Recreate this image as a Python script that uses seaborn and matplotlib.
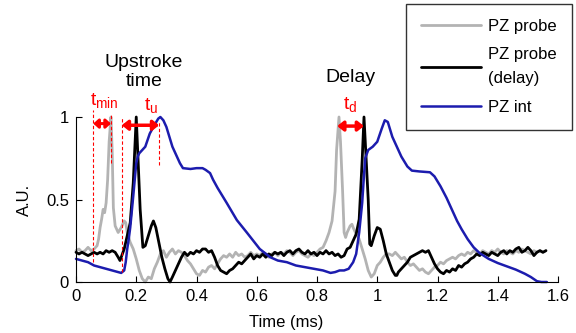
import matplotlib
matplotlib.use("Agg")
import matplotlib.pyplot as plt
import numpy as np
import pandas as pd
import seaborn as sns

# PZ probe (grey)
probe_t = [0.00, 0.01, 0.02, 0.03, 0.04, 0.05, 0.06, 0.07, 0.075, 0.08, 0.085, 0.09, 0.095, 0.10,
           0.105, 0.11, 0.116, 0.12, 0.124, 0.13, 0.14, 0.15, 0.16, 0.165, 0.17, 0.18, 0.19, 0.20,
           0.21, 0.22, 0.23, 0.24, 0.25, 0.26, 0.27, 0.28, 0.29, 0.30, 0.31, 0.32, 0.33, 0.34, 0.35,
           0.36, 0.37, 0.38, 0.39, 0.40, 0.41, 0.42, 0.43, 0.44, 0.45, 0.46, 0.47, 0.48, 0.49, 0.50,
           0.51, 0.52, 0.53, 0.54, 0.55, 0.56, 0.57, 0.58, 0.59, 0.60, 0.61, 0.62, 0.63, 0.64, 0.65,
           0.66, 0.67, 0.68, 0.69, 0.70, 0.71, 0.72, 0.73, 0.74, 0.75, 0.76, 0.77, 0.78, 0.79, 0.80,
           0.81, 0.82, 0.83, 0.84, 0.85, 0.86, 0.865, 0.873, 0.878, 0.885, 0.89, 0.895, 0.90, 0.91,
           0.916, 0.92, 0.93, 0.94, 0.95, 0.96, 0.97, 0.98, 0.99, 1.00, 1.01, 1.02, 1.03, 1.04, 1.05,
           1.06, 1.07, 1.08, 1.09, 1.10, 1.11, 1.12, 1.13, 1.14, 1.15, 1.16, 1.17, 1.18, 1.19, 1.20,
           1.21, 1.22, 1.23, 1.24, 1.25, 1.26, 1.27, 1.28, 1.29, 1.30, 1.31, 1.32, 1.33, 1.34, 1.35,
           1.36, 1.37, 1.38, 1.39, 1.40, 1.41, 1.42, 1.43, 1.44, 1.45, 1.46, 1.47, 1.48, 1.49, 1.50,
           1.51, 1.52, 1.53, 1.54, 1.55, 1.56]
probe_v = [0.19, 0.20, 0.18, 0.19, 0.21, 0.19, 0.20, 0.22, 0.26, 0.33, 0.38, 0.44, 0.42, 0.48,
           0.62, 0.85, 1.00, 0.80, 0.45, 0.34, 0.30, 0.33, 0.37, 0.36, 0.30, 0.24, 0.20, 0.14,
           0.07, 0.02, 0.00, 0.03, 0.02, 0.08, 0.12, 0.17, 0.19, 0.15, 0.18, 0.20, 0.17, 0.19, 0.18,
           0.16, 0.13, 0.11, 0.08, 0.05, 0.04, 0.07, 0.06, 0.09, 0.10, 0.08, 0.11, 0.14, 0.16, 0.15,
           0.17, 0.15, 0.18, 0.16, 0.17, 0.15, 0.16, 0.18, 0.16, 0.17, 0.16, 0.18, 0.17, 0.15, 0.17,
           0.18, 0.16, 0.18, 0.17, 0.19, 0.18, 0.16, 0.18, 0.19, 0.17, 0.16, 0.15, 0.17, 0.16, 0.18,
           0.20, 0.21, 0.25, 0.30, 0.37, 0.55, 0.80, 1.00, 0.85, 0.55, 0.30, 0.27, 0.30, 0.34,
           0.35, 0.33, 0.29, 0.26, 0.20, 0.14, 0.07, 0.03, 0.05, 0.10, 0.12, 0.15, 0.17, 0.17, 0.16,
           0.18, 0.16, 0.14, 0.15, 0.12, 0.10, 0.11, 0.09, 0.07, 0.08, 0.06, 0.05, 0.07, 0.09, 0.10,
           0.12, 0.11, 0.13, 0.14, 0.15, 0.14, 0.16, 0.17, 0.16, 0.18, 0.17, 0.19, 0.18, 0.17, 0.19,
           0.18, 0.17, 0.19, 0.18, 0.20, 0.18, 0.17, 0.19, 0.18, 0.17, 0.19, 0.18, 0.20, 0.19, 0.18,
           0.17, 0.19, 0.18, 0.19, 0.18, 0.19]

# PZ probe (delay), black
delay_t = [0.00, 0.01, 0.02, 0.03, 0.04, 0.05, 0.06, 0.07, 0.08, 0.09, 0.10, 0.11, 0.12, 0.13,
           0.14, 0.146, 0.15, 0.16, 0.17, 0.18, 0.19, 0.20, 0.207, 0.213, 0.222, 0.23, 0.24, 0.25,
           0.257, 0.265, 0.275, 0.285, 0.295, 0.305, 0.312, 0.32, 0.33, 0.34, 0.35, 0.36, 0.37, 0.38,
           0.39, 0.40, 0.41, 0.42, 0.43, 0.44, 0.45, 0.46, 0.47, 0.48, 0.49, 0.50, 0.51, 0.52, 0.53,
           0.54, 0.55, 0.56, 0.57, 0.58, 0.59, 0.60, 0.61, 0.62, 0.63, 0.64, 0.65, 0.66, 0.67, 0.68,
           0.69, 0.70, 0.71, 0.72, 0.73, 0.74, 0.75, 0.76, 0.77, 0.78, 0.79, 0.80, 0.81, 0.82, 0.83,
           0.84, 0.85, 0.86, 0.87, 0.88, 0.89, 0.90, 0.91, 0.92, 0.93, 0.94, 0.95, 0.956, 0.963,
           0.97, 0.975, 0.98, 0.99, 1.00, 1.01, 1.02, 1.03, 1.04, 1.05, 1.06, 1.065, 1.07, 1.08,
           1.09, 1.10, 1.11, 1.12, 1.13, 1.14, 1.15, 1.16, 1.17, 1.18, 1.19, 1.20, 1.21, 1.22, 1.23,
           1.24, 1.25, 1.26, 1.27, 1.28, 1.29, 1.30, 1.31, 1.32, 1.33, 1.34, 1.35, 1.36, 1.37, 1.38,
           1.39, 1.40, 1.41, 1.42, 1.43, 1.44, 1.45, 1.46, 1.47, 1.48, 1.49, 1.50, 1.51, 1.52, 1.53,
           1.54, 1.55, 1.56]
delay_v = [0.18, 0.17, 0.18, 0.17, 0.16, 0.17, 0.18, 0.17, 0.18, 0.17, 0.19, 0.18, 0.19, 0.18,
           0.15, 0.13, 0.15, 0.20, 0.28, 0.36, 0.60, 1.00, 0.70, 0.44, 0.21, 0.22, 0.28, 0.34,
           0.37, 0.33, 0.24, 0.15, 0.08, 0.02, 0.00, 0.03, 0.07, 0.11, 0.15, 0.18, 0.16, 0.18,
           0.17, 0.19, 0.18, 0.20, 0.20, 0.18, 0.19, 0.15, 0.10, 0.07, 0.06, 0.05, 0.07, 0.08, 0.10,
           0.12, 0.11, 0.13, 0.15, 0.17, 0.14, 0.16, 0.15, 0.17, 0.15, 0.17, 0.16, 0.18, 0.17, 0.18,
           0.16, 0.18, 0.19, 0.17, 0.19, 0.20, 0.18, 0.17, 0.19, 0.17, 0.18, 0.16, 0.18, 0.17, 0.19,
           0.17, 0.18, 0.16, 0.17, 0.15, 0.16, 0.20, 0.21, 0.25, 0.29, 0.38, 0.74, 1.00, 0.75,
           0.50, 0.23, 0.22, 0.28, 0.33, 0.32, 0.25, 0.17, 0.12, 0.07, 0.04, 0.04, 0.06, 0.08,
           0.10, 0.12, 0.15, 0.16, 0.17, 0.18, 0.19, 0.18, 0.19, 0.15, 0.11, 0.08, 0.06, 0.05, 0.07,
           0.06, 0.08, 0.07, 0.10, 0.09, 0.11, 0.12, 0.14, 0.15, 0.17, 0.16, 0.18, 0.17, 0.16, 0.18,
           0.17, 0.16, 0.18, 0.19, 0.17, 0.19, 0.18, 0.20, 0.21, 0.18, 0.19, 0.21, 0.19, 0.16, 0.18,
           0.19, 0.18, 0.19]

# PZ int (blue)
int_t = [0.00, 0.02, 0.04, 0.06, 0.08, 0.10, 0.12, 0.14, 0.15, 0.16, 0.165, 0.17, 0.175, 0.18,
         0.19, 0.20, 0.205, 0.21, 0.22, 0.23, 0.245, 0.26, 0.273, 0.28, 0.29, 0.30, 0.31, 0.32,
         0.335, 0.345, 0.355, 0.38, 0.40, 0.42, 0.43, 0.445, 0.455, 0.47, 0.50, 0.534, 0.567, 0.61,
         0.645, 0.67, 0.70, 0.73, 0.76, 0.79, 0.82, 0.845, 0.86, 0.875, 0.89, 0.905, 0.92, 0.93,
         0.94, 0.95, 0.955, 0.96, 0.97, 0.985, 1.00, 1.015, 1.025, 1.035, 1.05, 1.06, 1.08, 1.10,
         1.115, 1.14, 1.175, 1.19, 1.21, 1.23, 1.25, 1.265, 1.28, 1.30, 1.32, 1.34, 1.37, 1.40,
         1.43, 1.46, 1.49, 1.51, 1.53, 1.545, 1.563]
int_v = [0.14, 0.13, 0.12, 0.10, 0.09, 0.08, 0.07, 0.06, 0.055, 0.07, 0.12, 0.20, 0.26, 0.33,
         0.52, 0.72, 0.76, 0.78, 0.80, 0.82, 0.90, 0.95, 0.99, 1.00, 0.98, 0.94, 0.88, 0.82,
         0.76, 0.72, 0.69, 0.685, 0.69, 0.69, 0.68, 0.66, 0.62, 0.57, 0.48, 0.375, 0.30, 0.20,
         0.15, 0.13, 0.12, 0.10, 0.09, 0.08, 0.07, 0.055, 0.06, 0.07, 0.07, 0.08, 0.12, 0.17,
         0.30, 0.48, 0.62, 0.75, 0.80, 0.82, 0.85, 0.93, 0.98, 0.97, 0.88, 0.84, 0.76, 0.70,
         0.675, 0.67, 0.665, 0.64, 0.58, 0.51, 0.43, 0.37, 0.32, 0.26, 0.21, 0.175, 0.14, 0.115,
         0.095, 0.075, 0.05, 0.03, 0.005, 0.0, 0.0]

x_ticks = [0, 0.2, 0.4, 0.6, 0.8, 1.0, 1.2, 1.4, 1.6]
y_ticks = [0, 0.5, 1.0]

GREY = '#b3b3b3'
BLUE = '#1c1cae'
RED = '#ff0000'

sns.set_style('ticks')
plt.rcParams['font.family'] = ['Liberation Sans', 'DejaVu Sans']
plt.rcParams['mathtext.fontset'] = 'custom'
plt.rcParams['mathtext.rm'] = 'Liberation Sans'
plt.rcParams['text.color'] = 'black'
plt.rcParams['axes.labelcolor'] = 'black'

fig = plt.figure(figsize=(5.76, 3.33), dpi=100)
ax = fig.add_axes([76 / 576, 1 - 282 / 333, 482 / 576, 165 / 333])

probe = pd.DataFrame({'t': probe_t, 'v': probe_v})
delay = pd.DataFrame({'t': delay_t, 'v': delay_v})
integ = pd.DataFrame({'t': int_t, 'v': int_v})

sns.lineplot(data=probe, x='t', y='v', ax=ax, color=GREY, lw=2, sort=False,
             estimator=None, label='PZ probe')
sns.lineplot(data=delay, x='t', y='v', ax=ax, color='black', lw=2, sort=False,
             estimator=None, label='PZ probe\n(delay)')
sns.lineplot(data=integ, x='t', y='v', ax=ax, color=BLUE, lw=1.8, sort=False,
             estimator=None, label='PZ int')
for ln in ax.get_lines():
    ln.set_clip_on(False)

ax.set_xlim(0, 1.6)
ax.set_ylim(0, 1)
ax.set_xticks(x_ticks)
ax.set_yticks(y_ticks)
ax.set_xticklabels([f'{v:g}' for v in x_ticks])
ax.set_yticklabels([f'{v:g}' for v in y_ticks])
ax.tick_params(direction='in', length=4, width=0.8, labelsize=12, pad=5,
               colors='black', labelcolor='black')
sns.despine(ax=ax)
for s in ['left', 'bottom']:
    ax.spines[s].set_linewidth(0.8)
    ax.spines[s].set_color('black')

ax.set_xlabel('Time (ms)', fontsize=12, color='black')
ax.set_ylabel('A.U.', fontsize=12, color='black')
ax.xaxis.set_label_coords(0.436, -0.2)
ax.yaxis.set_label_coords(-0.092, 0.5)

# red markers for the timing intervals
dash = dict(color=RED, lw=0.8, ls=(0, (3, 2)), clip_on=False)
ax.plot([0.0575, 0.0575], [0.12, 1.04], **dash)
ax.plot([0.116, 0.116], [0.72, 1.02], **dash)
ax.plot([0.152, 0.152], [0.06, 1.0], **dash)
ax.plot([0.276, 0.276], [0.71, 0.97], **dash)

arrow = dict(arrowstyle='<|-|>,head_length=0.35,head_width=0.28', color=RED, lw=2.5,
             shrinkA=0, shrinkB=0)
small_arrow = dict(arrow, arrowstyle='<|-|>,head_length=0.28,head_width=0.26', lw=2.2)
ax.annotate('', xy=(0.0575, 0.96), xytext=(0.116, 0.96), arrowprops=small_arrow,
            annotation_clip=False)
ax.annotate('', xy=(0.152, 0.95), xytext=(0.276, 0.95), arrowprops=arrow, annotation_clip=False)
ax.annotate('', xy=(0.867, 0.945), xytext=(0.956, 0.945), arrowprops=arrow, annotation_clip=False)

ax.text(0.095, 1.10, r'$\mathregular{t_{min}}$', color=RED, fontsize=14, ha='center', va='center')
ax.text(0.248, 1.07, r'$\mathregular{t_{u}}$', color=RED, fontsize=14, ha='center', va='center')
ax.text(0.91, 1.075, r'$\mathregular{t_{d}}$', color=RED, fontsize=14, ha='center', va='center')
ax.text(0.226, 1.27, 'Upstroke\ntime', fontsize=14, ha='center', va='center', linespacing=1.15)
ax.text(0.91, 1.24, 'Delay', fontsize=14, ha='center', va='center')

handles, labels = ax.get_legend_handles_labels()
ax.get_legend().remove()
leg = fig.legend(handles, labels, loc='upper right', bbox_to_anchor=(572 / 576, 1 - 4 / 333),
                 fontsize=12, frameon=True, fancybox=False, edgecolor='black',
                 handlelength=3.6, handletextpad=0.45, labelspacing=0.8, borderpad=0.9,
                 borderaxespad=0)
leg.get_frame().set_linewidth(1.0)
for txt in leg.get_texts():
    txt.set_linespacing(1.75)

fig.savefig('out.png', dpi=100)
